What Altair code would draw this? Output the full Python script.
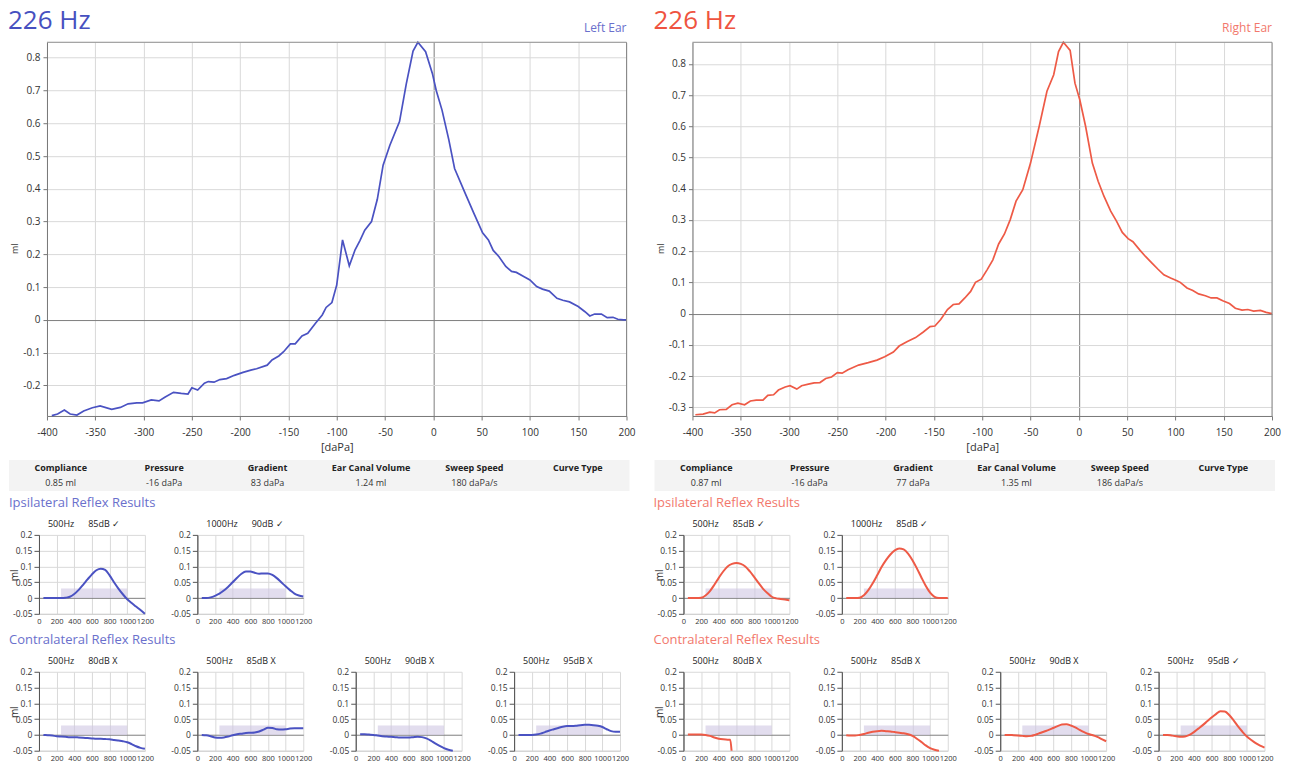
import altair as alt
import pandas as pd

FONT = "Open Sans"

BLUE = "#4650c0"
BLUE_LINE = "#4a52c2"
BLUE_LIGHT = "#6a70cc"
RED = "#ef5340"
RED_LINE = "#ee5a46"
RED_LIGHT = "#f2786c"

# ---------------- main tympanogram curves ----------------
L_P = [-395, -389, -382, -376, -369, -362, -353, -345, -333, -324, -316, -307, -301, -292, -284,
       -278, -269, -261, -254, -250, -244, -237, -233, -227, -221, -214, -206, -197, -189, -183,
       -172, -167, -160, -155, -148, -143, -136, -130, -122, -115, -111, -105, -100, -94, -87,
       -81, -76, -71, -64, -58, -52, -45, -35, -28, -21, -16, -8, -1, 3, 9, 16, 22, 33, 42, 51,
       57, 62, 68, 75, 81, 86, 94, 100, 107, 113, 120, 128, 134, 141, 150, 157, 162, 167, 174,
       180, 186, 191, 197, 200]
L_C = [-0.292, -0.287, -0.275, -0.287, -0.290, -0.278, -0.268, -0.262, -0.273, -0.267, -0.256,
       -0.253, -0.253, -0.244, -0.247, -0.236, -0.221, -0.224, -0.226, -0.207, -0.214, -0.193,
       -0.188, -0.190, -0.182, -0.179, -0.169, -0.160, -0.153, -0.149, -0.138, -0.122, -0.110,
       -0.097, -0.073, -0.073, -0.049, -0.041, -0.010, 0.015, 0.038, 0.053, 0.107, 0.244, 0.165,
       0.214, 0.242, 0.274, 0.300, 0.368, 0.472, 0.533, 0.605, 0.720, 0.820, 0.847, 0.818, 0.752,
       0.700, 0.640, 0.550, 0.462, 0.386, 0.325, 0.266, 0.244, 0.212, 0.193, 0.163, 0.148, 0.145,
       0.132, 0.122, 0.102, 0.094, 0.088, 0.066, 0.060, 0.055, 0.041, 0.025, 0.012, 0.018, 0.018,
       0.007, 0.008, 0.002, 0.000, 0.000]

R_P = [-397, -389, -382, -377, -372, -365, -359, -353, -346, -340, -334, -327, -322, -316, -311,
       -304, -299, -292, -287, -280, -274, -268, -262, -256, -250, -245, -239, -228, -218, -209,
       -201, -192, -186, -178, -169, -161, -154, -149, -143, -136, -130, -124, -118, -112, -107,
       -101, -95, -89, -83, -77, -71, -65, -58, -50, -41, -33, -26, -21, -16, -9, -4, 1, 7, 14,
       20, 26, 33, 39, 45, 51, 56, 63, 69, 76, 82, 88, 95, 101, 105, 112, 118, 124, 131, 137,
       143, 149, 156, 162, 169, 175, 181, 188, 194, 200]
R_C = [-0.324, -0.322, -0.316, -0.318, -0.308, -0.307, -0.292, -0.287, -0.292, -0.280, -0.277,
       -0.277, -0.262, -0.260, -0.245, -0.235, -0.231, -0.242, -0.231, -0.226, -0.222, -0.221,
       -0.208, -0.203, -0.189, -0.191, -0.180, -0.165, -0.157, -0.149, -0.138, -0.123, -0.104,
       -0.090, -0.077, -0.059, -0.042, -0.040, -0.019, 0.013, 0.029, 0.031, 0.050, 0.071, 0.100,
       0.110, 0.140, 0.172, 0.223, 0.255, 0.301, 0.360, 0.397, 0.482, 0.600, 0.712, 0.765, 0.839,
       0.869, 0.843, 0.738, 0.685, 0.600, 0.482, 0.424, 0.376, 0.328, 0.296, 0.260, 0.240, 0.230,
       0.204, 0.183, 0.161, 0.142, 0.124, 0.114, 0.106, 0.100, 0.082, 0.074, 0.063, 0.057, 0.050,
       0.050, 0.041, 0.032, 0.017, 0.011, 0.013, 0.008, 0.010, 0.004, 0.000]

MAIN_X_DOMAIN = [-400, 200]
MAIN_X_TICKS = [-400, -350, -300, -250, -200, -150, -100, -50, 0, 50, 100, 150, 200]
L_Y_DOMAIN = [-0.293, 0.847]
R_Y_DOMAIN = [-0.328, 0.869]
L_Y_TICKS = [-0.2, -0.1, 0, 0.1, 0.2, 0.3, 0.4, 0.5, 0.6, 0.7, 0.8]
R_Y_TICKS = [-0.3, -0.2, -0.1, 0, 0.1, 0.2, 0.3, 0.4, 0.5, 0.6, 0.7, 0.8]

# ---------------- results table ----------------
TABLE_HEAD = ["Compliance", "Pressure", "Gradient", "Ear Canal Volume", "Sweep Speed", "Curve Type"]
L_TABLE_VAL = ["0.85 ml", "-16 daPa", "83 daPa", "1.24 ml", "180 daPa/s", ""]
R_TABLE_VAL = ["0.87 ml", "-16 daPa", "77 daPa", "1.35 ml", "186 daPa/s", ""]

# ---------------- reflex curves ----------------
T = [50, 100, 150, 200, 250, 300, 350, 400, 450, 500, 550, 600, 650, 700, 750, 800, 850, 900,
     950, 1000, 1050, 1100, 1150, 1200]

SP = "\u00a0" * 6
L_IPSI_HEAD = ["500Hz" + SP + "85dB \u2713", "1000Hz" + SP + "90dB \u2713"]
L_IPSI_1 = [0, 0, 0, 0, 0, 0.001, 0.004, 0.013, 0.026, 0.042, 0.059, 0.075, 0.088, 0.093, 0.089,
            0.072, 0.050, 0.030, 0.012, -0.004, -0.016, -0.027, -0.038, -0.050]
L_IPSI_2 = [0, 0, 0.002, 0.007, 0.014, 0.024, 0.036, 0.050, 0.064, 0.077, 0.084, 0.084, 0.080,
            0.077, 0.078, 0.078, 0.073, 0.063, 0.050, 0.037, 0.025, 0.014, 0.008, 0.005]

L_CONTRA_HEAD = ["500Hz" + SP + "80dB X", "500Hz" + SP + "85dB X",
                 "500Hz" + SP + "90dB X", "500Hz" + SP + "95dB X"]
L_CONTRA_1 = [0, -0.001, -0.002, -0.004, -0.005, -0.006, -0.007, -0.007, -0.008, -0.009, -0.010,
              -0.011, -0.012, -0.012, -0.013, -0.014, -0.016, -0.018, -0.020, -0.023, -0.029,
              -0.036, -0.041, -0.044]
L_CONTRA_2 = [0, -0.001, -0.004, -0.008, -0.009, -0.008, -0.005, -0.001, 0.002, 0.004, 0.006,
              0.007, 0.008, 0.011, 0.017, 0.023, 0.022, 0.018, 0.017, 0.018, 0.020, 0.021, 0.021,
              0.021]
L_CONTRA_3_T = [50, 100, 150, 200, 250, 300, 350, 400, 450, 500, 550, 600, 650, 700, 750, 800,
                850, 900, 950, 1000, 1050, 1100]
L_CONTRA_3 = [0.002, 0.002, 0.001, 0, -0.002, -0.004, -0.005, -0.006, -0.007, -0.008, -0.008,
              -0.008, -0.007, -0.006, -0.007, -0.011, -0.018, -0.027, -0.035, -0.042, -0.047,
              -0.050]
L_CONTRA_4 = [0, 0, 0, 0, 0.001, 0.004, 0.009, 0.014, 0.018, 0.022, 0.026, 0.028, 0.028, 0.029,
              0.031, 0.032, 0.032, 0.031, 0.029, 0.025, 0.018, 0.012, 0.010, 0.010]

R_IPSI_HEAD = ["500Hz" + SP + "85dB \u2713", "1000Hz" + SP + "85dB \u2713"]
R_IPSI_1 = [0, 0, 0, 0.001, 0.008, 0.022, 0.042, 0.064, 0.084, 0.100, 0.108, 0.111, 0.108, 0.100,
            0.085, 0.067, 0.048, 0.030, 0.016, 0.004, -0.001, -0.003, -0.005, -0.007]
R_IPSI_2 = [0, 0, 0, 0.001, 0.009, 0.025, 0.047, 0.072, 0.098, 0.120, 0.138, 0.151, 0.157, 0.154,
            0.141, 0.120, 0.094, 0.066, 0.039, 0.017, 0.004, 0, 0, 0]

R_CONTRA_HEAD = ["500Hz" + SP + "80dB X", "500Hz" + SP + "85dB X",
                 "500Hz" + SP + "90dB X", "500Hz" + SP + "95dB \u2713"]
R_CONTRA_1_T = [50, 100, 150, 200, 250, 300, 350, 400, 450, 500, 530, 545]
R_CONTRA_1 = [0.001, 0.001, 0.001, 0.001, 0, -0.003, -0.008, -0.012, -0.014, -0.015, -0.015, -0.050]
R_CONTRA_2_T = [50, 100, 150, 200, 250, 300, 350, 400, 450, 500, 550, 600, 650, 700, 750, 800,
                850, 900, 950, 1000, 1050, 1100]
R_CONTRA_2 = [-0.001, -0.002, -0.002, 0, 0.003, 0.007, 0.010, 0.012, 0.013, 0.012, 0.011, 0.009,
              0.007, 0.005, 0.002, -0.003, -0.012, -0.022, -0.033, -0.042, -0.047, -0.050]
R_CONTRA_3 = [0, 0, -0.001, -0.002, -0.003, -0.004, -0.003, 0.001, 0.006, 0.011, 0.016, 0.022,
              0.028, 0.033, 0.034, 0.030, 0.024, 0.016, 0.009, 0.003, -0.001, -0.006, -0.013, -0.020]
R_CONTRA_4 = [0, 0, -0.002, -0.004, -0.006, -0.005, 0, 0.009, 0.020, 0.031, 0.043, 0.055, 0.066,
              0.075, 0.074, 0.063, 0.046, 0.027, 0.010, -0.005, -0.016, -0.026, -0.034, -0.040]

REFLEX_X_DOMAIN = [0, 1200]
REFLEX_X_TICKS = [0, 200, 400, 600, 800, 1000, 1200]
REFLEX_Y_DOMAIN = [-0.05, 0.2]
REFLEX_Y_TICKS = [-0.05, 0, 0.05, 0.1, 0.15, 0.2]
BAND_X = [250, 1000]
BAND_Y = [0, 0.03]

LABEL_EXPR = "'' + datum.value"
GRID_COLOR = {"condition": {"test": "datum.value === 0", "value": "#7d7d7d"}, "value": "#d9d9d9"}

MAIN_LEAD = 38      # room left of the main plot for its y axis
MAIN_W = 580
MAIN_H = 374
SMALL_LEAD = 30     # room left of the first reflex plot of a row
SMALL_W = 106
SMALL_H = 79


def main_chart(p, c, ydom, yticks, color, title_color, ear, ear_color):
    df = pd.DataFrame({"p": p, "c": c})
    xs = alt.Scale(domain=MAIN_X_DOMAIN, nice=False, zero=False, range=[MAIN_LEAD, MAIN_LEAD + MAIN_W])
    ys = alt.Scale(domain=ydom, nice=False, zero=False)
    xa = alt.Axis(values=MAIN_X_TICKS, labelExpr=LABEL_EXPR, title="[daPa]", titleFontWeight="normal",
                  titleFontSize=11, titleColor="#333", titlePadding=4, labelFontSize=10,
                  labelColor="#333", tickSize=4, tickColor="#777", domainColor="#777",
                  gridColor=GRID_COLOR, labelPadding=8, labelFlush=False)
    ya = alt.Axis(values=yticks, labelExpr=LABEL_EXPR, title="ml", titleFontWeight="normal",
                  titleFontSize=9, titleColor="#333", titleX=-27, titleY=206, offset=-MAIN_LEAD,
                  labelFontSize=10, labelColor="#333", tickSize=4, tickColor="#777",
                  domainColor="#777", gridColor=GRID_COLOR, labelPadding=3, labelFlush=False)
    line = alt.Chart(df).mark_line(color=color, strokeWidth=1.7).encode(
        x=alt.X("p:Q", scale=xs, axis=xa),
        y=alt.Y("c:Q", scale=ys, axis=ya),
    )
    frame = alt.Chart(pd.DataFrame({
        "x0": [MAIN_X_DOMAIN[0], MAIN_X_DOMAIN[1]], "x1": [MAIN_X_DOMAIN[1], MAIN_X_DOMAIN[1]],
        "y0": [ydom[1], ydom[0]], "y1": [ydom[1], ydom[1]]})).mark_rule(
        color="#8a8a8a", strokeWidth=1).encode(
        x=alt.X("x0:Q", scale=xs, axis=xa), x2="x1",
        y=alt.Y("y0:Q", scale=ys, axis=ya), y2="y1")
    ear_txt = alt.Chart(pd.DataFrame({"t": [ear]})).mark_text(
        align="right", baseline="middle", fontSize=12, color=ear_color
    ).encode(text="t:N", x=alt.value(MAIN_LEAD + MAIN_W), y=alt.value(-14))
    hz_txt = alt.Chart(pd.DataFrame({"t": ["226 Hz"]})).mark_text(
        align="left", baseline="top", fontSize=26, color=title_color
    ).encode(text="t:N", x=alt.value(-1), y=alt.value(-34))
    return alt.layer(line, frame, ear_txt, hz_txt).properties(
        width=MAIN_LEAD + MAIN_W, height=MAIN_H, view=alt.ViewBackground(stroke=None))


def table_chart(values):
    df = pd.DataFrame({"col": TABLE_HEAD * 2,
                       "row": ["h"] * len(TABLE_HEAD) + ["v"] * len(values),
                       "txt": TABLE_HEAD + values})
    base = alt.Chart(df).encode(
        x=alt.X("col:N", sort=TABLE_HEAD, scale=alt.Scale(paddingInner=0, paddingOuter=0), axis=None),
        y=alt.Y("row:N", sort=["h", "v"], scale=alt.Scale(paddingInner=0, paddingOuter=0), axis=None),
        text="txt:N",
    )
    head = base.transform_filter("datum.row == 'h'").mark_text(fontSize=9, fontWeight="bold", color="#222")
    vals = base.transform_filter("datum.row == 'v'").mark_text(fontSize=9, color="#333")
    return alt.layer(head, vals).properties(
        width=621, height=31, view=alt.ViewBackground(fill="#f3f3f3", stroke=None))


def reflex_chart(t, v, head, color, first):
    lead = SMALL_LEAD if first else 0
    xs = alt.Scale(domain=REFLEX_X_DOMAIN, nice=False, zero=False, range=[lead, lead + SMALL_W])
    ys = alt.Scale(domain=REFLEX_Y_DOMAIN, nice=False, zero=False, clamp=True)
    xa = alt.Axis(values=REFLEX_X_TICKS, labelExpr=LABEL_EXPR, title=None, labelFontSize=7.5,
                  labelColor="#333", tickSize=0, domainColor="#d0d0d0", gridColor=GRID_COLOR,
                  labelPadding=4, labelOverlap=False, labelFlush=False)
    if first:
        ya = alt.Axis(values=REFLEX_Y_TICKS, labelExpr=LABEL_EXPR, title="ml", offset=-lead,
                      titleFontWeight="normal", titleFontSize=10, titleColor="#333",
                      titleX=-19, titleY=40,
                      labelFontSize=8.5, labelColor="#333", tickSize=5, tickColor="#555",
                      domainColor="#555", gridColor=GRID_COLOR, labelPadding=2, labelFlush=False)
    else:
        ya = alt.Axis(values=REFLEX_Y_TICKS, labelExpr=LABEL_EXPR, title=None,
                      labelFontSize=8.5, labelColor="#333", tickSize=5, tickColor="#555",
                      domainColor="#555", gridColor=GRID_COLOR, labelPadding=2, labelFlush=False)
    band = alt.Chart(pd.DataFrame({"x0": [BAND_X[0]], "x1": [BAND_X[1]],
                                   "y0": [BAND_Y[0]], "y1": [BAND_Y[1]]})).mark_rect(
        color="#cfc7e3", opacity=0.6).encode(
        x=alt.X("x0:Q", scale=xs, axis=xa), x2="x1",
        y=alt.Y("y0:Q", scale=ys, axis=ya), y2="y1")
    line = alt.Chart(pd.DataFrame({"t": t, "v": v})).mark_line(
        color=color, strokeWidth=2, interpolate="monotone").encode(
        x=alt.X("t:Q", scale=xs, axis=xa), y=alt.Y("v:Q", scale=ys, axis=ya))
    return alt.layer(band, line).properties(
        width=lead + SMALL_W, height=SMALL_H, view=alt.ViewBackground(stroke=None),
        title=alt.TitleParams(head, anchor="start", dx=lead + 9, fontSize=9, fontWeight="normal",
                              color="#222", offset=2, frame="group"))


def group(charts, title, color):
    return alt.hconcat(*charts, spacing=52.5, bounds="flush",
                       title=alt.TitleParams(title, anchor="start", fontSize=13, fontWeight="normal",
                                             color=color, offset=10, frame="group"))


main_L = main_chart(L_P, L_C, L_Y_DOMAIN, L_Y_TICKS, BLUE_LINE, BLUE, "Left Ear", BLUE_LIGHT)
main_R = main_chart(R_P, R_C, R_Y_DOMAIN, R_Y_TICKS, RED_LINE, RED, "Right Ear", RED_LIGHT)

ipsi_L = group([reflex_chart(T, L_IPSI_1, L_IPSI_HEAD[0], BLUE_LINE, True),
                reflex_chart(T, L_IPSI_2, L_IPSI_HEAD[1], BLUE_LINE, False)],
               "Ipsilateral Reflex Results", BLUE_LIGHT)
ipsi_R = group([reflex_chart(T, R_IPSI_1, R_IPSI_HEAD[0], RED_LINE, True),
                reflex_chart(T, R_IPSI_2, R_IPSI_HEAD[1], RED_LINE, False)],
               "Ipsilateral Reflex Results", RED_LIGHT)
contra_L = group([reflex_chart(T, L_CONTRA_1, L_CONTRA_HEAD[0], BLUE_LINE, True),
                  reflex_chart(T, L_CONTRA_2, L_CONTRA_HEAD[1], BLUE_LINE, False),
                  reflex_chart(L_CONTRA_3_T, L_CONTRA_3, L_CONTRA_HEAD[2], BLUE_LINE, False),
                  reflex_chart(T, L_CONTRA_4, L_CONTRA_HEAD[3], BLUE_LINE, False)],
                 "Contralateral Reflex Results", BLUE_LIGHT)
contra_R = group([reflex_chart(R_CONTRA_1_T, R_CONTRA_1, R_CONTRA_HEAD[0], RED_LINE, True),
                  reflex_chart(R_CONTRA_2_T, R_CONTRA_2, R_CONTRA_HEAD[1], RED_LINE, False),
                  reflex_chart(T, R_CONTRA_3, R_CONTRA_HEAD[2], RED_LINE, False),
                  reflex_chart(T, R_CONTRA_4, R_CONTRA_HEAD[3], RED_LINE, False)],
                 "Contralateral Reflex Results", RED_LIGHT)

row_main = alt.hconcat(main_L, main_R, spacing=18)
row_table = alt.hconcat(table_chart(L_TABLE_VAL), table_chart(R_TABLE_VAL), spacing=25)
row_ipsi = alt.hconcat(ipsi_L, ipsi_R, spacing=341)
row_contra = alt.hconcat(contra_L, contra_R, spacing=24)

upper = alt.concat(row_main, row_table, columns=1, align="none", spacing=7)
lower = alt.concat(row_ipsi, row_contra, columns=1, align="none", spacing=8)
chart = alt.concat(upper, lower, columns=1, align="none", spacing=6).properties(
    padding=0
).configure(font=FONT)

chart.save("out.html", embed_options={"renderer": "svg", "actions": False})
